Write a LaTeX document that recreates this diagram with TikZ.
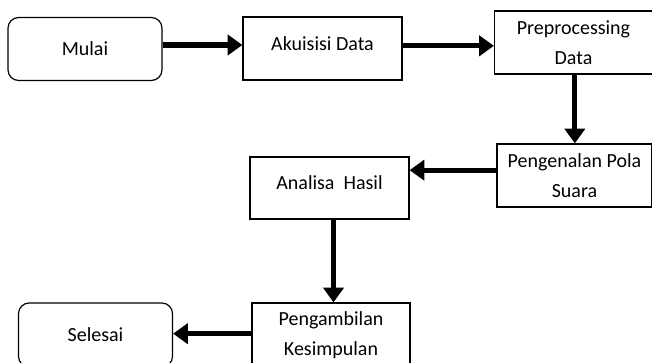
\documentclass[tikz,border=0pt]{standalone}
\usepackage{fontspec}
\setmainfont{Carlito}
\usetikzlibrary{arrows.meta}
\begin{document}
\begin{tikzpicture}[x=0.75pt,y=-0.75pt,box/.style={draw,line width=.9pt,minimum width=118.5pt,minimum height=47.25pt,inner sep=0pt,align=center,font=\fontsize{15}{22.5}\selectfont},rbox/.style={box,rounded corners=8pt,minimum width=115.5pt},flow/.style={line width=3.8pt,-{Triangle[length=11pt,width=15pt]}}]
\clip(0,0)rectangle(652,363);\useasboundingbox(0,0)rectangle(652,363);
\node[rbox](mulai)at(85,49){Mulai};\node[box,minimum width=119.25pt,text depth=7pt](akuisisi)at(322.5,48.5){Akuisisi Data};
\node[box](preproc)at(573.5,42.5){Preprocessing\\Data};\node[box,minimum width=116.25pt](pengenalan)at(574.5,175.5){Pengenalan Pola\\Suara};
\node[box,minimum width=119.25pt,minimum height=46.5pt,text depth=7.5pt](analisa)at(329.5,188){Analisa~ Hasil};
\node[box,minimum height=48pt](kesimpulan)at(331,335){Pengambilan\\Kesimpulan};\node[rbox,minimum height=48pt](selesai)at(95.5,335){Selesai};
\draw[flow]([yshift=3pt]mulai.east)--([yshift=3pt]mulai.east-|akuisisi.west);\draw[flow]([yshift=2pt]akuisisi.east)--([yshift=2pt]akuisisi.east-|preproc.west);
\draw[flow]([xshift=1pt]preproc.south)--([xshift=1pt]preproc.south|-pengenalan.north);\draw[flow]([yshift=4pt]pengenalan.west)--([yshift=4pt]pengenalan.west-|analisa.east);
\draw[flow]([xshift=3pt]analisa.south)--([xshift=3pt]analisa.south|-kesimpulan.north);\draw[flow]([yshift=1pt]kesimpulan.west)--([yshift=1pt]kesimpulan.west-|selesai.east);
\end{tikzpicture}
\end{document}
